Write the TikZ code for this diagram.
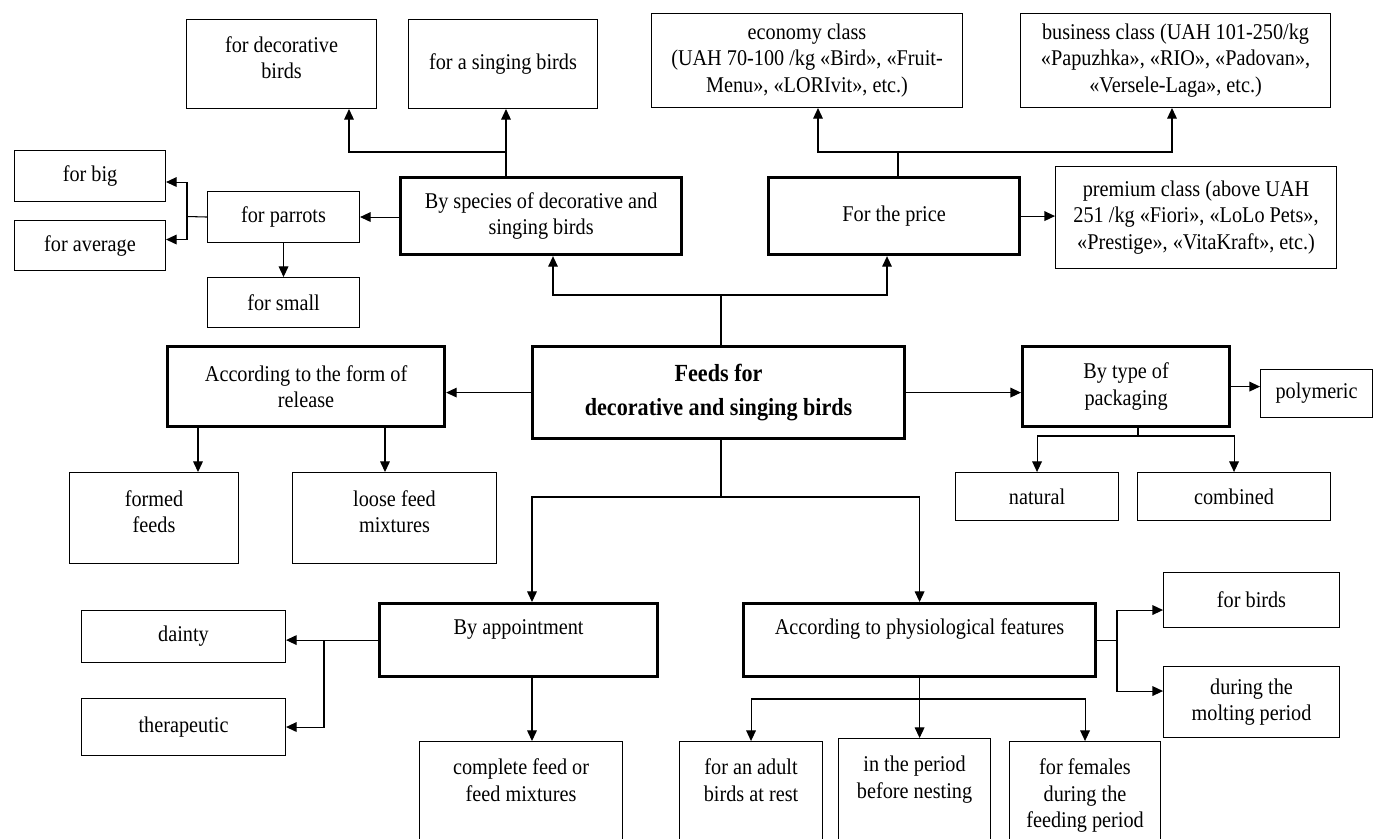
\documentclass[tikz,border=0pt]{standalone}
\usepackage{fontspec}
\setmainfont{Liberation Serif}[FakeStretch=0.9]
\usetikzlibrary{arrows.meta, calc}

\tikzset{
  box/.style={draw, line width=0.6pt, align=center, inner sep=1pt,
    font=\fontsize{12.8}{15}\selectfont},
  thickbox/.style={box, line width=1.8pt},
  sz/.style 2 args={minimum width=#1*0.02cm, minimum height=#2*0.02cm},
  ln/.style={line width=0.6pt},
  arr/.style={ln, -{Triangle[length=6pt,width=5.5pt]}}
}

\begin{document}
\begin{tikzpicture}[x=0.02cm, y=-0.02cm]
  \useasboundingbox (0,0) rectangle (1378,838);
  \clip (0,0) rectangle (1378,838);

  % thin boxes: name/left/top/width/height/text
  \foreach \nm/\x/\y/\w/\h/\txt in {
      dec/186/19/190/89/{for decorative\\birds\\[-8pt]~},
      sing/408/19/189/89/{for a singing birds},
      econ/651/13/311/94/{economy class\\(UAH 70-100 /kg «Bird», «Fruit-\\Menu», «LORIvit», etc.)},
      bus/1020/13/310/94/{business class (UAH 101-250/kg\\«Papuzhka», «RIO», «Padovan»,\\«Versele-Laga», etc.)},
      big/14/150/151/51/{for big},
      avg/14/220/151/50/{for average},
      parrots/207/191/152/51/{for parrots},
      small/207/277/152/50/{for small},
      premium/1055/166/281/102/{premium class (above UAH\\251 /kg «Fiori», «LoLo Pets»,\\«Prestige», «VitaKraft», etc.)},
      poly/1260/369/112/48/{polymeric},
      formed/69/472/169/91/{formed\\feeds\\[-8pt]~},
      loose/292/472/204/91/{loose feed\\mixtures\\[-8pt]~},
      natural/955/472/163/48/{natural},
      comb/1137/472/193/48/{combined},
      dainty/81/610/204/52/{dainty},
      thera/81/698/204/57/{therapeutic},
      fbirds/1163/572/176/55/{for birds},
      molt/1163/666/176/71/{during the\\molting period},
      complete/419/741/203/130/{complete feed or\\feed mixtures\\~\\~},
      adult/679/741/143/130/{for an adult\\birds at rest\\~\\~},
      nesting/838/738/152/130/{in the period\\before nesting\\~\\~},
      females/1009/741/151/130/{for females\\during the\\feeding period\\~}} {
    \node[box, sz={\w}{\h}, anchor=north west] (\nm) at (\x,\y) {\txt};
  }

  % thick boxes
  \foreach \nm/\x/\y/\w/\h/\txt in {
      species/399/176/281/77/{By species of decorative and\\singing birds},
      price/767/176/251/77/{For the price},
      release/166/345/277/80/{According to the form of\\release},
      pack/1021/345/207/80/{By type of\\packaging},
      appoint/378/602/278/73/{By appointment\\~},
      phys/742/602/352/73/{According to physiological features\\~}} {
    \node[thickbox, sz={\w}{\h}, anchor=north west] (\nm) at (\x,\y) {\txt};
  }

  \node[thickbox, sz={372}{92}, anchor=north west,
    font=\bfseries\fontsize{14}{19}\selectfont] (central) at (531,345)
    {Feeds for\\decorative and singing birds};

  % junction points
  \coordinate (jsp) at (506,152);
  \coordinate (jdec) at (349,152);
  \coordinate (jpr) at (898,152);
  \coordinate (jeco) at (818,152);
  \coordinate (jbus) at (1172,152);
  \coordinate (jpa) at (187,216.5);
  \coordinate (jtop) at (721,295);
  \coordinate (jspb) at (553,295);
  \coordinate (jprb) at (887,295);
  \coordinate (jpk) at (1138,436);
  \coordinate (rel1) at (198,425);
  \coordinate (rel2) at (385,425);
  \coordinate (jbot) at (721,497);
  \coordinate (japp) at (532,497);
  \coordinate (jap) at (324,637);
  \coordinate (jph) at (1117,638);
  \coordinate (jpb) at (750,699);

  % upper part
  \draw[ln] (species.north -| jsp) -- (jsp);
  \draw[arr] (jsp) -- (jsp |- sing.south);
  \draw[arr] (jsp) -- (jdec) -- (jdec |- dec.south);
  \draw[ln] (price.north -| jpr) -- (jpr);
  \draw[arr] (jpr) -- (jeco) -- (jeco |- econ.south);
  \draw[arr] (jpr) -- (jbus) -- (jbus |- bus.south);
  \draw[arr] (price.east) -- (price.east -| premium.west);
  \draw[arr] (species.west |- parrots.east) -- (parrots.east);
  \draw[ln] (parrots.west) -- (jpa);
  \draw[arr] (jpa) |- ($(big.east)+(0,6)$);
  \draw[arr] (jpa) |- ($(avg.east)+(0,-6)$);
  \draw[arr] (parrots.south) -- (small.north);
  \draw[ln] (central.north -| jtop) -- (jtop);
  \draw[arr] (jtop) -- (jspb) -- (jspb |- species.south);
  \draw[arr] (jtop) -- (jprb) -- (jprb |- price.south);

  % middle row
  \draw[arr] (central.west) -- (central.west -| release.east);
  \draw[arr] (central.east) -- (central.east -| pack.west);
  \draw[arr] (pack.east) -- (pack.east -| poly.west);
  \draw[ln] (pack.south -| jpk) -- (jpk);
  \draw[arr] (jpk) -| (natural.north);
  \draw[arr] (jpk) -| (comb.north);
  \draw[arr] (release.south -| rel1) -- (rel1 |- formed.north);
  \draw[arr] (release.south -| rel2) -- (rel2 |- loose.north);

  % lower part
  \draw[ln] (central.south -| jbot) -- (jbot);
  \draw[arr] (jbot) -- (japp) -- (japp |- appoint.north);
  \draw[arr] (jbot) -| (phys.north);
  \draw[arr] (appoint.west) -- (appoint.west -| dainty.east);
  \draw[arr] (appoint.west -| jap) |- (thera.east);
  \draw[arr] (appoint.south -| japp) -- (japp |- complete.north);
  \draw[ln] (phys.east) -- (phys.east -| jph);
  \draw[arr] (phys.east -| jph) |- ($(fbirds.west)+(0,10)$);
  \draw[arr] (phys.east -| jph) |- ($(molt.west)+(0,-11)$);
  \draw[arr] (phys.south) -- (phys.south |- nesting.north);
  \draw[arr] (phys.south |- jpb) -| (adult.north);
  \draw[arr] (phys.south |- jpb) -| (females.north);
\end{tikzpicture}
\end{document}
